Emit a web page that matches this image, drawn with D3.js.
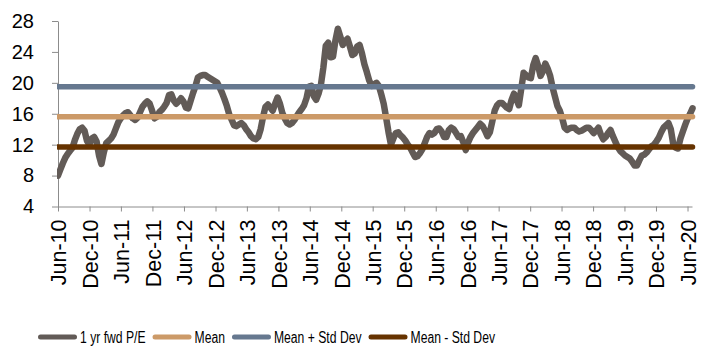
<!DOCTYPE html>
<html>
<head>
<meta charset="utf-8">
<script src="https://cdn.jsdelivr.net/npm/d3@7"></script>
<style>
  html, body { margin: 0; padding: 0; background: #fff; }
  svg { display: block; font-family: "Liberation Sans", Arial, sans-serif; }
</style>
</head>
<body>
<svg id="chart" width="709" height="347"></svg>
<script>
// 1-year forward P/E, fortnightly readings starting June 2010
const startDate = "2010-06-01";
const stepDays = 14;
const peValues = [
  // 2010-11
  8.0, 8.8, 9.6, 10.3, 10.8, 11.2, 11.6, 12.6, 13.4, 14.0, 14.2, 13.8, 12.5,
  12.0, 12.8, 13.0, 12.4, 10.6, 9.5, 11.0, 12.2, 12.5, 12.8, 13.3, 14.1, 14.9,
  // 2011-12
  15.4, 15.8, 16.1, 16.2, 15.8, 15.4, 15.2, 15.5, 16.2, 16.9, 17.3, 17.6, 17.3,
  16.4, 15.4, 15.6, 16.2, 16.5, 16.9, 17.4, 18.4, 18.5, 17.7, 17.3, 17.6, 18.0,
  // 2012-13
  17.6, 16.8, 16.7, 17.7, 18.7, 19.6, 20.7, 20.9, 21.0, 21.0, 20.8, 20.6, 20.4,
  20.2, 20.0, 19.4, 18.7, 17.9, 17.0, 15.9, 15.2, 14.5, 14.4, 14.6, 14.8, 14.5,
  // 2013-14
  14.0, 13.6, 13.1, 12.8, 12.7, 13.0, 14.0, 15.6, 16.9, 17.2, 16.8, 16.4, 17.3,
  18.1, 17.3, 16.1, 15.4, 14.8, 14.6, 14.8, 15.2, 15.7, 16.2, 16.6, 17.1, 18.0,
  // 2014-15
  19.5, 19.6, 18.3, 17.8, 18.6, 19.8, 22.0, 24.8, 25.2, 23.3, 23.4, 25.5, 27.0,
  26.0, 24.9, 25.4, 25.7, 24.7, 23.6, 23.8, 24.7, 24.9, 23.8, 22.4, 21.4, 20.3,
  // 2015-16
  19.6, 19.8, 20.0, 19.6, 18.5, 17.3, 15.5, 13.6, 12.0, 12.8, 13.5, 13.6, 13.2,
  12.9, 12.5, 12.0, 11.6, 11.0, 10.4, 10.5, 10.9, 11.4, 12.2, 13.0, 13.5, 13.3,
  // 2016-17
  13.5, 14.0, 14.1, 13.7, 13.0, 13.0, 13.9, 14.2, 14.0, 13.5, 13.0, 13.1, 12.3,
  11.3, 12.3, 13.0, 13.5, 13.9, 14.3, 14.7, 14.4, 13.8, 13.1, 13.6, 15.0, 16.4,
  // 2017-18
  17.1, 17.4, 17.4, 17.1, 16.8, 16.6, 17.8, 18.6, 17.9, 17.1, 19.2, 21.3, 21.0,
  20.7, 20.6, 22.3, 23.2, 22.2, 20.9, 21.5, 22.5, 21.8, 20.9, 19.4, 18.2, 17.0,
  // 2018-19
  16.4, 15.4, 14.2, 13.9, 14.1, 14.2, 14.2, 13.9, 13.7, 13.8, 14.0, 14.2, 14.2,
  13.9, 13.5, 13.8, 14.2, 13.3, 12.7, 13.0, 13.5, 13.9, 13.1, 12.4, 11.7, 11.2,
  // 2019-20
  10.9, 10.6, 10.4, 10.2, 9.8, 9.3, 9.3, 10.0, 10.6, 10.7, 11.0, 11.4, 11.8,
  12.0, 12.4, 12.9, 13.6, 14.2, 14.5, 14.8, 14.0, 12.1, 11.6, 11.5, 12.8, 13.7,
  // 2020
  14.6, 15.4, 16.0, 16.7
];

// Long-run reference levels
const meanLevel = 15.6;
const upperLevel = 19.5;   // mean + one standard deviation
const lowerLevel = 11.7;   // mean - one standard deviation

const yTicks = [4, 8, 12, 16, 20, 24, 28];
const xTickLabels = [
  "Jun-10", "Dec-10", "Jun-11", "Dec-11", "Jun-12", "Dec-12", "Jun-13",
  "Dec-13", "Jun-14", "Dec-14", "Jun-15", "Dec-15", "Jun-16", "Dec-16",
  "Jun-17", "Dec-17", "Jun-18", "Dec-18", "Jun-19", "Dec-19", "Jun-20"
];

const seriesNames = ["1 yr fwd P/E", "Mean", "Mean + Std Dev", "Mean - Std Dev"];
const seriesColors = ["#625b57", "#cc9a68", "#66788f", "#663300"];

// ---- build series ----
const start = d3.timeParse("%Y-%m-%d")(startDate);
const peSeries = peValues.map((v, i) => ({ date: d3.timeDay.offset(start, i * stepDays), value: v }));
const lastDate = peSeries[peSeries.length - 1].date;
const parseTick = d3.timeParse("%b-%y");
const xTickDates = xTickLabels.map(parseTick);

const svg = d3.select("#chart");
const plot = { left: 58, right: 692, top: 21, bottom: 206.5 };

const x = d3.scaleTime()
  .domain([start, d3.timeDay.offset(parseTick("Jun-20"), 26)])
  .range([plot.left, plot.right]);
const y = d3.scaleLinear().domain([4, 28]).range([plot.bottom, plot.top]);

// ---- axes ----
const axisColor = "#8c8c8c";
const yAxis = svg.append("g")
  .attr("transform", `translate(${plot.left},0)`)
  .call(d3.axisLeft(y).tickValues(yTicks).tickSize(6).tickPadding(18).tickSizeOuter(0));
yAxis.selectAll("text").attr("font-size", 20).attr("fill", "#000")
  .attr("font-family", "Liberation Sans, Arial, sans-serif");

const xAxis = svg.append("g")
  .attr("transform", `translate(0,${plot.bottom})`)
  .call(d3.axisBottom(x).tickValues(xTickDates).tickFormat((d, i) => xTickLabels[i])
    .tickSize(5).tickSizeOuter(0));
xAxis.selectAll("text")
  .attr("font-size", 21.5).attr("fill", "#000")
  .attr("font-family", "Liberation Sans, Arial, sans-serif")
  .attr("text-anchor", "end")
  .attr("transform", "rotate(-90)")
  .attr("x", -13).attr("y", 0).attr("dy", "0.36em");

svg.selectAll(".domain, .tick line").attr("stroke", axisColor).attr("stroke-width", 1);

// ---- data lines ----
svg.append("defs").append("clipPath").attr("id", "plotClip")
  .append("rect").attr("x", plot.left - 1).attr("y", 0).attr("width", 709).attr("height", 347);

const g = svg.append("g").attr("clip-path", "url(#plotClip)");

const line = d3.line().x(d => x(d.date)).y(d => y(d.value)).curve(d3.curveLinear);
g.append("path")
  .datum(peSeries)
  .attr("d", line)
  .attr("fill", "none")
  .attr("stroke", seriesColors[0])
  .attr("stroke-width", 6.5)
  .attr("stroke-linejoin", "round")
  .attr("stroke-linecap", "round");

const levels = [meanLevel, upperLevel, lowerLevel];
levels.forEach((lv, k) => {
  g.append("path")
    .datum([{ date: start, value: lv }, { date: lastDate, value: lv }])
    .attr("d", line)
    .attr("fill", "none")
    .attr("stroke", seriesColors[k + 1])
    .attr("stroke-width", 5.5)
    .attr("stroke-linecap", "round");
});

// ---- legend ----
const legend = svg.append("g").attr("transform", "translate(38,337)");
let cursor = 0;
seriesNames.forEach((name, k) => {
  legend.append("line")
    .attr("x1", cursor + 2.5).attr("x2", cursor + 36.5)
    .attr("y1", 0).attr("y2", 0)
    .attr("stroke", seriesColors[k]).attr("stroke-width", 5).attr("stroke-linecap", "round");
  const t = legend.append("text")
    .attr("x", cursor + 42).attr("y", 6)
    .attr("font-size", 16).attr("fill", "#000")
    .text(name);
  const natural = t.node().getComputedTextLength();
  const squeezed = natural * 0.76;
  t.attr("textLength", squeezed).attr("lengthAdjust", "spacingAndGlyphs");
  cursor += 42 + squeezed + 7;
});
</script>
</body>
</html>
